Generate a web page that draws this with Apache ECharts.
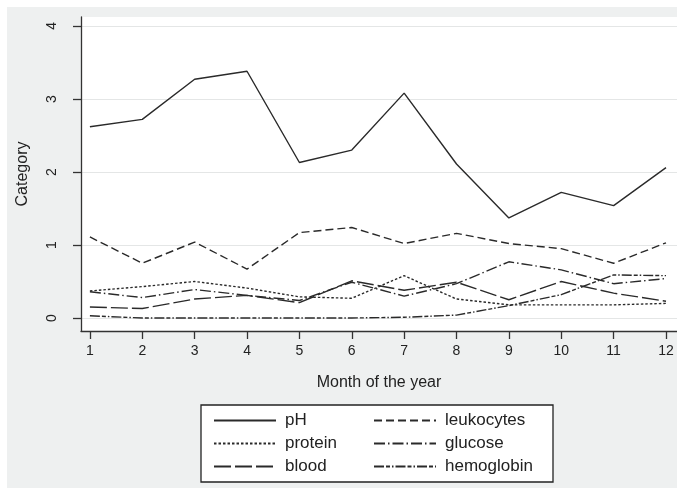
<!DOCTYPE html>
<html>
<head>
<meta charset="utf-8">
<script src="https://cdn.jsdelivr.net/npm/echarts@6/dist/echarts.min.js"></script>
<style>
html,body{margin:0;padding:0;background:#ffffff;}
#c{position:absolute;left:7px;top:7px;width:670px;height:481px;}
</style>
</head>
<body>
<div id="c"></div>
<script>
const months = [1,2,3,4,5,6,7,8,9,10,11,12];
const yTicks = [0,1,2,3,4];
const seriesNames = ['pH','leukocytes','protein','glucose','blood','hemoglobin'];
const legendCol1 = ['pH','protein','blood'];
const legendCol2 = ['leukocytes','glucose','hemoglobin'];
const pH         = [2.62,2.72,3.27,3.38,2.13,2.30,3.08,2.11,1.37,1.72,1.54,2.06];
const leukocytes = [1.11,0.75,1.04,0.67,1.17,1.24,1.02,1.16,1.02,0.95,0.75,1.03];
const protein    = [0.37,0.43,0.50,0.41,0.29,0.27,0.58,0.26,0.18,0.18,0.18,0.20];
const glucose    = [0.36,0.28,0.39,0.31,0.24,0.49,0.30,0.47,0.77,0.66,0.47,0.54];
const blood      = [0.15,0.13,0.26,0.31,0.21,0.51,0.38,0.49,0.25,0.50,0.34,0.23];
const hemoglobin = [0.03,0.00,0.00,0.00,0.00,0.00,0.01,0.04,0.17,0.32,0.59,0.58];

const values = {pH, leukocytes, protein, glucose, blood, hemoglobin};
const dashes = {
  pH: 'solid',
  leukocytes: [8,4],
  protein: [2.5,2],
  glucose: [11,3,1.5,3],
  blood: [17,4],
  hemoglobin: [10,2,4,2,1.5,2]
};
const lineColor = '#2a2a2a';
const font = 'Liberation Sans, Arial, sans-serif';

function legendCol(data, left) {
  return {
    orient: 'vertical', left: left, top: 405, padding: 0,
    data: data, itemWidth: 62, itemHeight: 14, itemGap: 6,
    itemStyle: {opacity: 0}, z: 6,
    textStyle: {fontFamily: font, fontSize: 17, color: '#222', padding: [0, 0, 0, 4]},
    selectedMode: false
  };
}

const chart = echarts.init(document.getElementById('c'), null, {renderer:'canvas'});
chart.setOption({
  backgroundColor: '#eef0f0',
  animation: false,
  grid: {left: 70, top: 10, right: 0, bottom: 157, show: true, backgroundColor: '#ffffff', borderWidth: 0},
  xAxis: {
    type: 'value', min: 0.83, max: 12.21,
    name: 'Month of the year', nameLocation: 'middle', nameGap: 44,
    nameTextStyle: {fontFamily: font, fontSize: 16, color: '#222'},
    axisLine: {show: true, onZero: false, lineStyle: {color: '#333', width: 1.3}},
    axisTick: {show: true, length: 8, customValues: months, lineStyle: {color: '#333', width: 1.3}},
    axisLabel: {customValues: months, fontFamily: font, fontSize: 14, color: '#222', margin: 13},
    splitLine: {show: false}
  },
  yAxis: {
    type: 'value', min: -0.178, max: 4.123,
    name: 'Category', nameLocation: 'middle', nameGap: 50, nameRotate: 90,
    nameTextStyle: {fontFamily: font, fontSize: 16, color: '#222'},
    axisLine: {show: true, onZero: false, lineStyle: {color: '#333', width: 1.3}},
    axisTick: {show: true, length: 8, customValues: yTicks, lineStyle: {color: '#333', width: 1.3}},
    axisLabel: {customValues: yTicks, rotate: 90, fontFamily: font, fontSize: 14, color: '#222', margin: 22},
    splitLine: {show: true, lineStyle: {color: '#e4e6e6', width: 1}}
  },
  graphic: [{
    type: 'rect', z: 1, silent: true,
    shape: {x: 194, y: 398, width: 352, height: 77},
    style: {fill: '#ffffff', stroke: '#222', lineWidth: 1.3}
  }],
  legend: [legendCol(legendCol1, 206), legendCol(legendCol2, 366)],
  series: seriesNames.map(n => ({
    name: n,
    type: 'line',
    symbol: 'none',
    data: months.map((m, i) => [m, values[n][i]]),
    lineStyle: {color: lineColor, width: 1.4, type: dashes[n]},
    itemStyle: {color: lineColor}
  }))
});
</script>
</body>
</html>
